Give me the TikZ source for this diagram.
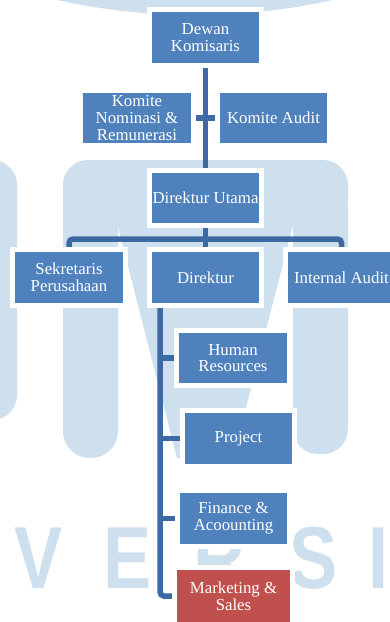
\documentclass[tikz,border=0pt]{standalone}
\usepackage{fontspec}
\setmainfont{Liberation Serif}
\newfontfamily\wmfont{Liberation Sans}
\definecolor{boxblue}{HTML}{4F81BD}
\definecolor{boxred}{HTML}{C0504D}
\definecolor{connblue}{HTML}{3E6AA3}
\definecolor{wmblue}{HTML}{CEDFEE}
\pgfdeclarelayer{wmlayer}
\pgfdeclarelayer{background}
\pgfsetlayers{wmlayer,background,main}
\begin{document}
\begin{tikzpicture}[x=1pt,y=-1pt,
  box/.style={rectangle, fill=boxblue, draw=white, line width=5pt, text=white,
    align=center, inner sep=0pt, minimum width=112pt, minimum height=56pt,
    font=\fontsize{16.8}{16.7}\selectfont},
  redbox/.style={box, fill=boxred, minimum width=118pt, minimum height=57pt},
  conn/.style={draw=connblue, line width=5.5pt},
  wm/.style={fill=wmblue},
  wmtext/.style={text=wmblue, anchor=base, inner sep=0pt,
    font=\wmfont\bfseries\fontsize{88}{88}\selectfont}]
\useasboundingbox (0,0) rectangle (390,622);
\clip (0,0) rectangle (390,622);
\begin{pgfonlayer}{wmlayer}
\fill[white] (0,0) rectangle (390,622);
% watermark: arc at top, U stem, M, letters
\fill[wm] (195,-618) circle (633pt);
\fill[wm, rounded corners=25pt] (-40,160) rectangle (17,420);
\fill[wm, rounded corners=27pt] (63,180) rectangle (118,458);
\fill[wm, rounded corners=25pt] (293,180) rectangle (348,454);
\fill[wm, rounded corners=25pt] (63,160) rectangle (348,224);
\fill[wm] (117,223) -- (294,221) -- (233,458) -- (177,458) -- cycle;
\node[wmtext] (wv) at (39,588) {\scalebox{0.82}[1]{V}};
\node[wmtext] (we) at (128,588) {\scalebox{0.82}[1]{E}};
\node[wmtext] (wr) at (220,588) {\scalebox{0.82}[1]{R}};
\node[wmtext] (ws) at (313.5,588) {\scalebox{0.82}[1]{S}};
\node[wmtext] (wi) at (379,588) {\scalebox{0.82}[1]{I}};
\end{pgfonlayer}
\coordinate (bar) at (205.5,239);
\coordinate (dl) at (160,303);
\path
  node[box] (dk) at (205.5,37.5) {Dewan\\Komisaris}
  node[box, minimum width=113pt, minimum height=55pt] (kn) at (137,118) {Komite\\Nominasi \&\\Remunerasi}
  node[box, minimum height=55pt] (ka) at (273.5,118) {Komite Audit}
  node[box, minimum height=55pt] (du) at (205.5,198) {Direktur Utama}
  node[box, minimum width=113pt] (sek) at (69,277.5) {Sekretaris\\Perusahaan}
  node[box] (dir) at (205.5,277.5) {Direktur}
  node[box] (ia) at (341.5,277.5) {Internal Audit}
  node[box, minimum width=113pt, minimum height=55pt] (hr) at (233,358) {Human\\Resources}
  node[box] (prj) at (238.5,438.5) {Project}
  node[box, minimum height=56pt] (fin) at (233.5,518.5) {Finance \&\\Acoounting}
  node[redbox] (mkt) at (233.5,596) {Marketing \&\\Sales};
\begin{pgfonlayer}{background}
\draw[conn] (dk.south) -- (du.north);
\draw[conn] (kn.east) -- (ka.west);
\draw[conn] (du.south) -- (dir.north);
\draw[conn, rounded corners=4pt] (sek.north) |- (bar) -| (ia.north);
\draw[conn, rounded corners=4pt] (dl) |- (mkt.west);
\draw[conn] (dl |- hr.west) -- (hr.west);
\draw[conn] (dl |- prj.west) -- (prj.west);
\draw[conn] (dl |- fin.west) -- (fin.west);
\end{pgfonlayer}
\end{tikzpicture}
\end{document}
